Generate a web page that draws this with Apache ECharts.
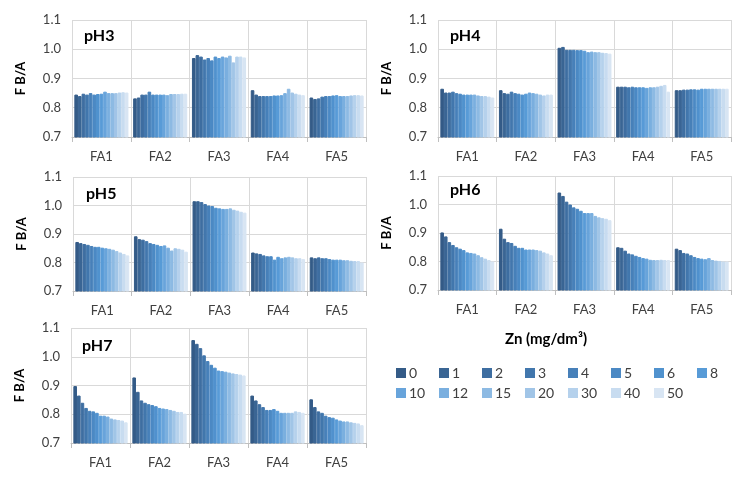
<!DOCTYPE html>
<html>
<head>
<meta charset="utf-8">
<script src="https://cdn.jsdelivr.net/npm/echarts@6/dist/echarts.min.js"></script>
<style>html,body{margin:0;padding:0;background:#fff}#c{width:752px;height:479px}</style>
</head>
<body>
<div id="c"></div>
<script>
// Categories (humic fractions) and Zn concentrations (series)
const categories = ['FA1', 'FA2', 'FA3', 'FA4', 'FA5'];
const znLevels = ['0', '1', '2', '3', '4', '5', '6', '8', '10', '12', '15', '20', '30', '40', '50'];
const yTicks = [0.7, 0.8, 0.9, 1.0, 1.1];

// Values per panel: one row per FA category, one value per Zn level
const pH3 = [
  [0.845, 0.840, 0.848, 0.845, 0.850, 0.845, 0.847, 0.848, 0.855, 0.850, 0.850, 0.850, 0.852, 0.853, 0.852],
  [0.832, 0.835, 0.845, 0.845, 0.855, 0.845, 0.845, 0.845, 0.845, 0.843, 0.847, 0.847, 0.847, 0.848, 0.848],
  [0.970, 0.980, 0.975, 0.965, 0.970, 0.962, 0.975, 0.970, 0.975, 0.972, 0.978, 0.955, 0.975, 0.975, 0.972],
  [0.860, 0.845, 0.840, 0.840, 0.840, 0.840, 0.842, 0.842, 0.843, 0.850, 0.865, 0.852, 0.848, 0.845, 0.843],
  [0.835, 0.830, 0.832, 0.838, 0.840, 0.840, 0.842, 0.843, 0.840, 0.840, 0.840, 0.842, 0.843, 0.843, 0.842]
];
const pH4 = [
  [0.865, 0.852, 0.852, 0.855, 0.850, 0.848, 0.845, 0.845, 0.845, 0.845, 0.842, 0.840, 0.840, 0.838, 0.835],
  [0.860, 0.850, 0.848, 0.855, 0.850, 0.848, 0.845, 0.848, 0.852, 0.850, 0.848, 0.845, 0.842, 0.845, 0.845],
  [1.005, 1.008, 0.998, 0.998, 0.998, 0.997, 0.997, 0.995, 0.990, 0.992, 0.990, 0.990, 0.988, 0.987, 0.985],
  [0.872, 0.872, 0.872, 0.870, 0.872, 0.870, 0.870, 0.870, 0.868, 0.870, 0.870, 0.872, 0.875, 0.878, 0.855],
  [0.860, 0.860, 0.862, 0.862, 0.863, 0.863, 0.862, 0.865, 0.865, 0.865, 0.865, 0.865, 0.865, 0.865, 0.865]
];
const pH5 = [
  [0.872, 0.868, 0.865, 0.862, 0.858, 0.855, 0.855, 0.852, 0.850, 0.848, 0.845, 0.840, 0.835, 0.830, 0.825],
  [0.892, 0.882, 0.880, 0.875, 0.868, 0.865, 0.862, 0.858, 0.860, 0.852, 0.842, 0.850, 0.848, 0.845, 0.838],
  [1.015, 1.015, 1.012, 1.005, 1.000, 0.998, 0.992, 0.990, 0.988, 0.988, 0.990, 0.985, 0.982, 0.978, 0.975],
  [0.835, 0.832, 0.830, 0.825, 0.822, 0.822, 0.810, 0.820, 0.815, 0.818, 0.820, 0.818, 0.815, 0.815, 0.812],
  [0.818, 0.815, 0.818, 0.815, 0.815, 0.812, 0.810, 0.810, 0.810, 0.808, 0.808, 0.806, 0.805, 0.805, 0.800]
];
const pH6 = [
  [0.902, 0.888, 0.868, 0.858, 0.850, 0.845, 0.840, 0.832, 0.830, 0.828, 0.822, 0.815, 0.810, 0.805, 0.800],
  [0.915, 0.880, 0.868, 0.865, 0.855, 0.848, 0.848, 0.842, 0.842, 0.842, 0.840, 0.838, 0.832, 0.828, 0.822],
  [1.042, 1.030, 1.010, 1.000, 0.990, 0.985, 0.978, 0.970, 0.970, 0.970, 0.960, 0.955, 0.952, 0.950, 0.945],
  [0.850, 0.848, 0.838, 0.828, 0.825, 0.820, 0.816, 0.812, 0.810, 0.806, 0.805, 0.805, 0.806, 0.805, 0.805],
  [0.845, 0.840, 0.830, 0.828, 0.822, 0.816, 0.812, 0.810, 0.808, 0.812, 0.805, 0.803, 0.802, 0.800, 0.800]
];
const pH7 = [
  [0.898, 0.865, 0.840, 0.822, 0.812, 0.810, 0.805, 0.795, 0.795, 0.792, 0.785, 0.782, 0.780, 0.778, 0.772],
  [0.928, 0.878, 0.848, 0.840, 0.835, 0.832, 0.828, 0.822, 0.820, 0.818, 0.815, 0.812, 0.808, 0.808, 0.802],
  [1.058, 1.045, 1.030, 1.005, 0.985, 0.972, 0.962, 0.952, 0.950, 0.948, 0.945, 0.942, 0.940, 0.938, 0.935],
  [0.865, 0.848, 0.835, 0.825, 0.815, 0.815, 0.818, 0.812, 0.805, 0.805, 0.805, 0.805, 0.810, 0.808, 0.805],
  [0.852, 0.825, 0.810, 0.805, 0.795, 0.790, 0.788, 0.782, 0.778, 0.775, 0.775, 0.772, 0.770, 0.768, 0.762]
];
const panelNames = ['pH3', 'pH4', 'pH5', 'pH6', 'pH7'];
const panelData = [pH3, pH4, pH5, pH6, pH7];

const colors = ['#345b87', '#3a6594', '#3e6ea1', '#4277ad', '#4780b9', '#4b89c4', '#5092ce', '#589bd7',
                '#68a4db', '#7aafdf', '#8dbae3', '#a1c5e7', '#b5d1ec', '#c8dcf0', '#d8e5f3'];

const FONT = 'Lato, "Noto Sans", sans-serif';
const grids = [
  {left: 72, top: 20, width: 294, height: 117},
  {left: 438, top: 20, width: 293, height: 117},
  {left: 73, top: 177, width: 293, height: 114},
  {left: 438, top: 176, width: 293, height: 114},
  {left: 71, top: 328, width: 295, height: 115}
];
const titlePos = [[84, 28], [450, 28], [86, 186], [450, 182], [82, 338]];

// one legend entry per Zn level, laid out on an 8-column grid
const legends = znLevels.map((z, i) => ({
  data: [z],
  left: 396 + (i % 8) * 43,
  top: i < 8 ? 366 : 386,
  padding: 0,
  itemWidth: 8, itemHeight: 8, itemGap: 5,
  icon: 'rect',
  textStyle: {fontFamily: FONT, fontSize: 14, color: '#404040', padding: [0, 0, 0, -1]},
  selectedMode: false
}));

const option = {
  animation: false,
  color: colors,
  title: panelNames.map((n, i) => ({
    text: n, left: titlePos[i][0], top: titlePos[i][1], padding: 0,
    textStyle: {fontFamily: FONT, fontSize: 16, fontWeight: 'bold', color: '#000'}
  })).concat([{
    text: 'Zn (mg/dm³)', left: 546, top: 332, padding: 0, textAlign: 'center',
    textStyle: {fontFamily: FONT, fontSize: 15, fontWeight: 'bold', color: '#000'}
  }]),
  legend: legends,
  grid: grids,
  xAxis: grids.map((g, i) => ({
    type: 'category', gridIndex: i, data: categories,
    axisLine: {lineStyle: {color: '#bfbfbf'}},
    axisTick: {show: true, length: 5, lineStyle: {color: '#bfbfbf'}},
    axisLabel: {fontFamily: FONT, fontSize: 13, color: '#404040', margin: 13},
    splitLine: {show: true, lineStyle: {color: '#d9d9d9'}}
  })),
  yAxis: grids.map((g, i) => ({
    type: 'value', gridIndex: i, min: yTicks[0], max: yTicks[yTicks.length - 1], interval: 0.1,
    name: 'F B/A', nameLocation: 'middle', nameGap: 45, nameRotate: 90,
    nameTextStyle: {fontFamily: FONT, fontSize: 13, fontWeight: 'bold', color: '#000'},
    axisLine: {show: false}, axisTick: {show: false},
    axisLabel: {fontFamily: FONT, fontSize: 13, color: '#404040', margin: 11, formatter: v => v.toFixed(1)},
    splitLine: {show: true, lineStyle: {color: '#d9d9d9'}}
  })),
  series: []
};

panelData.forEach((rows, p) => {
  znLevels.forEach((z, s) => {
    option.series.push({
      type: 'bar', name: z, xAxisIndex: p, yAxisIndex: p,
      barGap: '0%', barCategoryGap: '8%',
      itemStyle: {color: colors[s], borderColor: colors[s], borderWidth: 1},
      data: rows.map(r => r[s])
    });
  });
});

const chart = echarts.init(document.getElementById('c'), null, {renderer: 'canvas'});
chart.setOption(option);
</script>
</body>
</html>
